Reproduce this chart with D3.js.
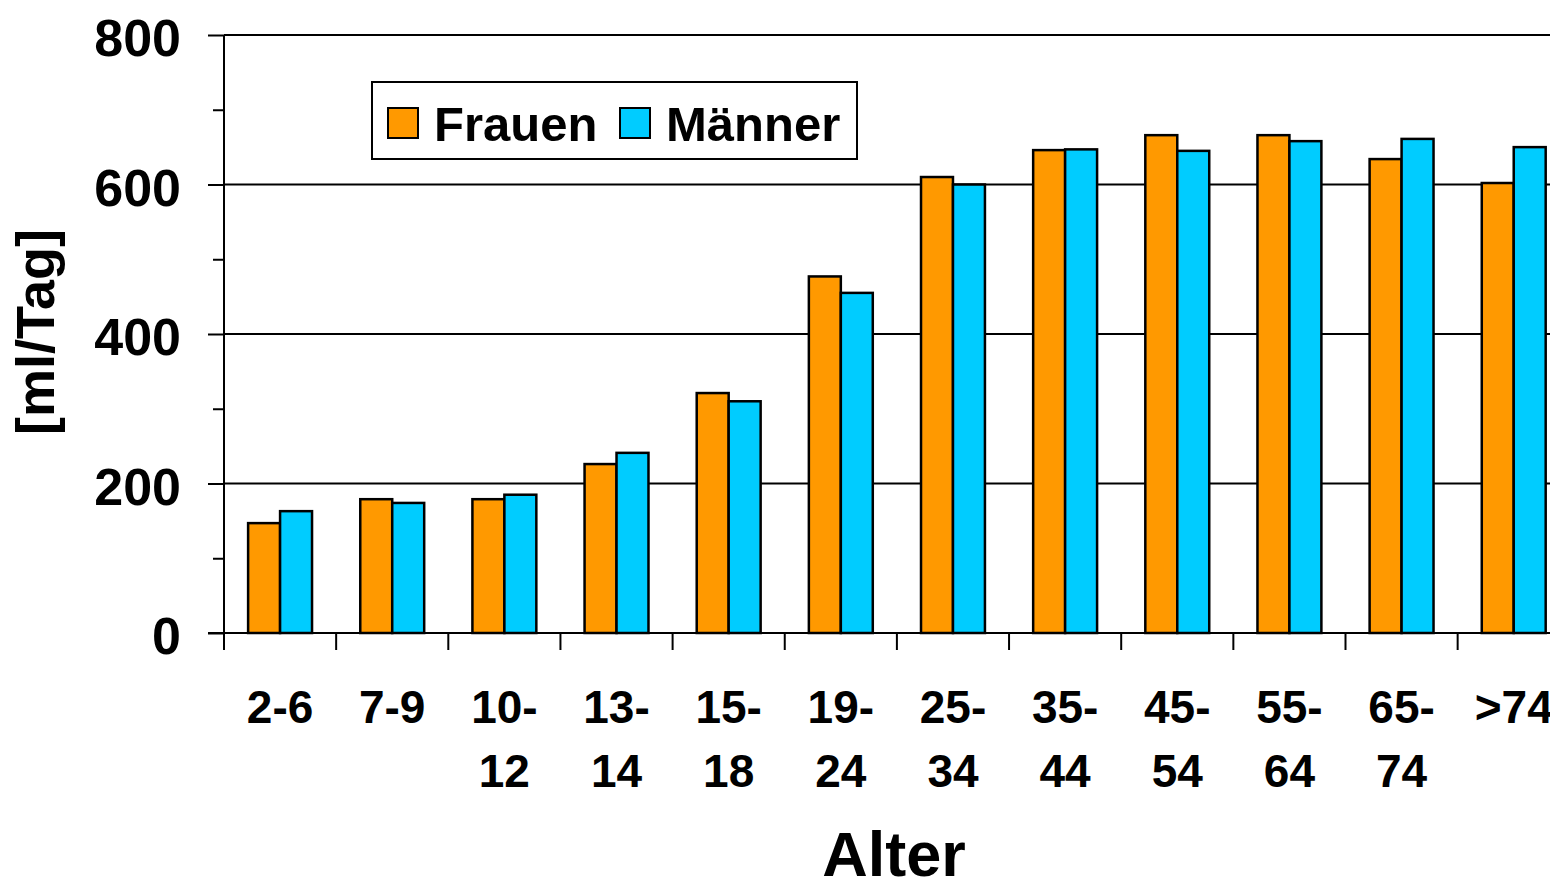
<!DOCTYPE html>
<html>
<head>
<meta charset="utf-8">
<script src="https://cdn.jsdelivr.net/npm/d3@7"></script>
<style>
  body { margin: 0; background: #fff; }
  text { font-family: "Liberation Sans", Arial, sans-serif; font-weight: bold; }
</style>
</head>
<body>
<div id="chart"></div>
<script>
// age groups and daily amount (ml/Tag)
const categories = ["2-6", "7-9", "10-12", "13-14", "15-18", "19-24", "25-34", "35-44", "45-54", "55-64", "65-74", ">74"];
const labelLines = [["2-6"], ["7-9"], ["10-", "12"], ["13-", "14"], ["15-", "18"], ["19-", "24"],
    ["25-", "34"], ["35-", "44"], ["45-", "54"], ["55-", "64"], ["65-", "74"], [">74"]];
const frauen = [147, 179, 179, 226, 321, 477, 610, 646, 666, 666, 634, 602];
const maenner = [163, 174, 185, 241, 310, 455, 600, 647, 645, 658, 661, 650];
const seriesNames = ["Frauen", "Männer"];
const seriesColors = ["#FF9900", "#00CCFF"];
const yTicks = [0, 200, 400, 600, 800];
const yMinor = [100, 300, 500, 700];

const width = 1550, height = 878;
const margin = { top: 35, left: 224 };
const plotBottom = 633;
const step = 112.15;

const svg = d3.select("#chart")
    .append("svg")
    .attr("width", width)
    .attr("height", height);

// the plot runs a little past the right edge of the picture
const x = d3.scaleBand()
    .domain(categories)
    .range([margin.left, margin.left + categories.length * step])
    .paddingInner(0.43)
    .paddingOuter(0.215);

const xInner = d3.scaleBand()
    .domain(seriesNames)
    .range([0, x.bandwidth()]);

const y = d3.scaleLinear()
    .domain([0, 800])
    .range([plotBottom, margin.top]);

// gridlines
svg.append("g")
    .selectAll("line")
    .data(yTicks.slice(1))
    .enter()
    .append("line")
    .attr("x1", margin.left)
    .attr("x2", width)
    .attr("y1", d => y(d))
    .attr("y2", d => y(d))
    .style("stroke", "#000")
    .style("stroke-width", 2);

// bars
const data = categories.map((c, i) => ({ cat: c, values: [frauen[i], maenner[i]] }));

const group = svg.append("g")
    .selectAll("g")
    .data(data)
    .enter()
    .append("g")
    .attr("transform", d => "translate(" + x(d.cat) + ",0)");

group.selectAll("rect")
    .data(d => d.values.map((v, j) => ({ name: seriesNames[j], value: v, color: seriesColors[j] })))
    .enter()
    .append("rect")
    .attr("x", d => xInner(d.name))
    .attr("y", d => y(d.value))
    .attr("width", xInner.bandwidth())
    .attr("height", d => y(0) - y(d.value))
    .style("fill", d => d.color)
    .style("stroke", "#000")
    .style("stroke-width", 2.5);

// y axis
const yAxis = svg.append("g")
    .attr("transform", "translate(" + margin.left + ",0)")
    .call(d3.axisLeft(y).tickValues(yTicks).tickSize(16).tickPadding(27));
yAxis.select(".domain").remove();
yAxis.selectAll(".tick line").style("stroke", "#000").style("stroke-width", 2);
yAxis.selectAll(".tick text")
    .style("font-size", "52px")
    .style("fill", "#000")
    .attr("dy", "0.4em");

svg.append("g")
    .attr("transform", "translate(" + margin.left + ",0)")
    .call(d3.axisLeft(y).tickValues(yMinor).tickSize(11).tickFormat(""))
    .call(g => g.select(".domain").remove())
    .selectAll(".tick line").style("stroke", "#000").style("stroke-width", 2);

svg.append("line")
    .attr("x1", margin.left).attr("x2", margin.left)
    .attr("y1", margin.top).attr("y2", plotBottom + 17)
    .style("stroke", "#000").style("stroke-width", 2);

// x axis baseline and category separators
svg.append("line")
    .attr("x1", margin.left - 16).attr("x2", width)
    .attr("y1", plotBottom).attr("y2", plotBottom)
    .style("stroke", "#000").style("stroke-width", 2);

svg.append("g")
    .selectAll("line")
    .data(categories.slice(1))
    .enter()
    .append("line")
    .attr("x1", (d, i) => margin.left + (i + 1) * x.step())
    .attr("x2", (d, i) => margin.left + (i + 1) * x.step())
    .attr("y1", plotBottom)
    .attr("y2", plotBottom + 17)
    .style("stroke", "#000").style("stroke-width", 2);

// x labels (two lines where the group is split)
const xl = svg.append("g")
    .selectAll("text")
    .data(categories)
    .enter()
    .append("text")
    .attr("text-anchor", "middle")
    .style("font-size", "46px")
    .style("fill", "#000");

xl.each(function (d, i) {
    const t = d3.select(this);
    labelLines[i].forEach((line, k) => {
        t.append("tspan")
            .attr("x", x(d) + x.bandwidth() / 2)
            .attr("y", 723 + k * 64)
            .text(line);
    });
});

// axis titles
svg.append("text")
    .attr("x", 894)
    .attr("y", 876)
    .attr("text-anchor", "middle")
    .style("font-size", "63px")
    .text("Alter");

svg.append("text")
    .attr("transform", "translate(54,332) rotate(-90)")
    .attr("text-anchor", "middle")
    .style("font-size", "54px")
    .text("[ml/Tag]");

// legend
const legend = svg.append("g");
legend.append("rect")
    .attr("x", 372).attr("y", 82)
    .attr("width", 485).attr("height", 77)
    .style("fill", "#fff")
    .style("stroke", "#000")
    .style("stroke-width", 2);

const legendX = [388, 620];
seriesNames.forEach((name, i) => {
    legend.append("rect")
        .attr("x", legendX[i]).attr("y", 108)
        .attr("width", 30).attr("height", 30)
        .style("fill", seriesColors[i])
        .style("stroke", "#000")
        .style("stroke-width", 2);
    legend.append("text")
        .attr("x", legendX[i] + 46)
        .attr("y", 141)
        .style("font-size", "49px")
        .text(name);
});
</script>
</body>
</html>
